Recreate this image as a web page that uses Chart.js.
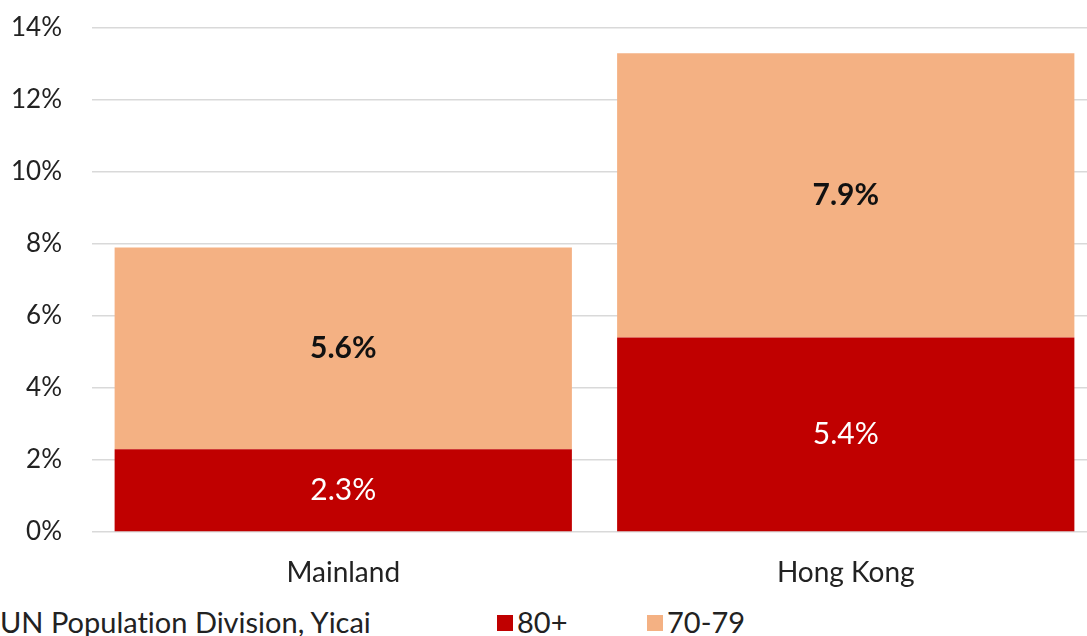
<!DOCTYPE html>
<html>
<head>
<meta charset="utf-8">
<script src="https://cdn.jsdelivr.net/npm/chart.js@4/dist/chart.umd.min.js"></script>
<style>
    html, body { margin: 0; padding: 0; background: #fff; overflow: hidden; }
    #wrap { position: absolute; left: 0; top: 0; width: 1097px; height: 600px; }
    .note, .key { position: absolute; top: 604px; font-family: Lato, sans-serif; font-size: 29px; color: #222;
        white-space: nowrap; line-height: 36px; font-variant-ligatures: none; }
    .key span { display: inline-block; width: 16px; height: 16px; margin-right: 4px; vertical-align: 2px; }
</style>
</head>
<body>
<div id="wrap"><canvas id="ageChart"></canvas></div>
<div class="note" style="left:0;">UN Population Division, Yicai</div>
<div id="legend"></div>

<script>
// Share of population by age group
const regions = ['Mainland', 'Hong Kong'];
const aged80plus = [2.3, 5.4];
const aged70to79 = [5.6, 7.9];
const yTicks = [0, 2, 4, 6, 8, 10, 12, 14];

const seriesColors = ['#C00000', '#F4B183'];
const labelColors = ['#ffffff', '#111111'];
const labelWeights = ['normal', 'bold'];
const fontFamily = 'Lato, sans-serif';

// Draw the value label in the middle of each bar segment
const segmentLabels = {
    id: 'segmentLabels',
    afterDatasetsDraw(chart) {
        const ctx = chart.ctx;
        chart.data.datasets.forEach((ds, i) => {
            const meta = chart.getDatasetMeta(i);
            meta.data.forEach((bar, j) => {
                const mid = (bar.y + bar.base) / 2;
                ctx.save();
                ctx.fillStyle = labelColors[i];
                ctx.font = `${labelWeights[i]} 30px ${fontFamily}`;
                ctx.textAlign = 'center';
                ctx.textBaseline = 'middle';
                ctx.fillText(ds.data[j].toFixed(1) + '%', bar.x, mid);
                ctx.restore();
            });
        });
    }
};

const chart = new Chart(document.getElementById('ageChart'), {
    type: 'bar',
    data: {
        labels: regions,
        datasets: [
            { label: '80+', data: aged80plus, backgroundColor: seriesColors[0] },
            { label: '70-79', data: aged70to79, backgroundColor: seriesColors[1] }
        ]
    },
    options: {
        responsive: true,
        maintainAspectRatio: false,
        animation: false,
        layout: { padding: { top: 28, left: 0, right: 0, bottom: 0 } },
        datasets: { bar: { categoryPercentage: 0.91, barPercentage: 1 } },
        plugins: {
            legend: { display: false },
            tooltip: { enabled: false }
        },
        scales: {
            x: {
                stacked: true,
                grid: { display: false },
                border: { display: false },
                ticks: { color: '#222', font: { family: fontFamily, size: 28 }, padding: 16 },
                afterFit(axis) { axis.height = 68; axis.paddingLeft = 0; axis.paddingRight = 0; }
            },
            y: {
                stacked: true,
                min: 0,
                max: 14,
                afterBuildTicks(axis) { axis.ticks = yTicks.map(v => ({ value: v })); },
                grid: { color: '#d9d9d9', lineWidth: 1.5, drawTicks: false },
                border: { display: false },
                ticks: {
                    color: '#222',
                    font: { family: fontFamily, size: 26 },
                    padding: 30,
                    callback: v => v + '%'
                },
                afterFit(axis) { axis.width = 92; axis.paddingTop = 0; axis.paddingBottom = 0; }
            }
        }
    },
    plugins: [segmentLabels]
});

// Legend below the plot
const legend = document.getElementById('legend');
const legendLeft = [497, 647];
chart.data.datasets.forEach((ds, i) => {
    const item = document.createElement('div');
    item.className = 'key';
    item.style.left = legendLeft[i] + 'px';
    item.innerHTML = `<span style="background:${ds.backgroundColor}"></span>${ds.label}`;
    legend.appendChild(item);
});
</script>
</body>
</html>
